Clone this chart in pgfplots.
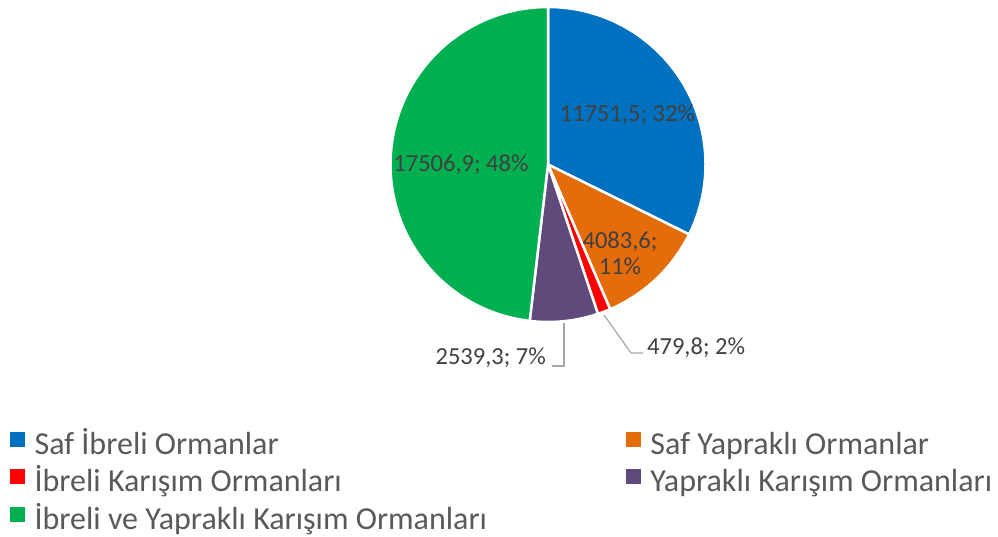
\documentclass[border=0pt]{standalone}
\usepackage{pgfplots}
\pgfplotsset{compat=1.18}
\usepackage{pgfplotstable}
\usepackage{fontspec}
\setmainfont{Carlito}
\definecolor{cBlue}{HTML}{0070C0}
\definecolor{cOrange}{HTML}{E46C0A}
\definecolor{cRed}{HTML}{FF0000}
\definecolor{cPurple}{HTML}{604A7B}
\definecolor{cGreen}{HTML}{00B050}
\definecolor{lblText}{HTML}{404040}
\definecolor{legText}{HTML}{595959}
\definecolor{leader}{HTML}{A6A6A6}

\pgfplotstableread{
value
11751.5
4083.6
479.8
2539.3
17506.9
}\pietable

\begin{document}
\begin{tikzpicture}
\pgfplotstablegetelem{0}{value}\of\pietable \edef\vA{\pgfplotsretval}
\pgfplotstablegetelem{1}{value}\of\pietable \edef\vB{\pgfplotsretval}
\pgfplotstablegetelem{2}{value}\of\pietable \edef\vC{\pgfplotsretval}
\pgfplotstablegetelem{3}{value}\of\pietable \edef\vD{\pgfplotsretval}
\pgfplotstablegetelem{4}{value}\of\pietable \edef\vE{\pgfplotsretval}
\edef\tot{\fpeval{\vA+\vB+\vC+\vD+\vE}}
\edef\aA{90}
\edef\aB{\fpeval{\aA-360*\vA/\tot}}
\edef\aC{\fpeval{\aB-360*\vB/\tot}}
\edef\aD{\fpeval{\aC-360*\vC/\tot}}
\edef\aE{\fpeval{\aD-360*\vD/\tot}}
\edef\aF{\fpeval{\aE-360*\vE/\tot}}
\def\R{157.5pt}
\useasboundingbox (0,0) rectangle (998pt,537pt);
\begin{axis}[
  x=1pt, y=1pt, xmin=0, xmax=998, ymin=0, ymax=537,
  hide axis, clip=false, at={(0,0)}, anchor=origin,
  legend columns=2,
  legend cell align=left,
  legend style={at={(axis cs:10,107)}, anchor=north west, draw=none, fill=none,
    inner sep=0pt, font=\fontsize{32}{38}\selectfont, text=legText,
    nodes={inner sep=0pt, text height=24pt, text depth=8pt},
    row sep=5.5pt,
    /tikz/every odd column/.style={column sep=10pt},
    /tikz/column 2/.style={column sep=139pt}},
]
\fill[cBlue, draw=white, line width=2.5pt, line join=round] (axis cs:548,372.5) -- ++(\aA:\R) arc[start angle=\aA, end angle=\aB, radius=\R] -- cycle;
\fill[cOrange, draw=white, line width=2.5pt, line join=round] (axis cs:548,372.5) -- ++(\aB:\R) arc[start angle=\aB, end angle=\aC, radius=\R] -- cycle;
\fill[cRed, draw=white, line width=2.5pt, line join=round] (axis cs:548,372.5) -- ++(\aC:\R) arc[start angle=\aC, end angle=\aD, radius=\R] -- cycle;
\fill[cPurple, draw=white, line width=2.5pt, line join=round] (axis cs:548,372.5) -- ++(\aD:\R) arc[start angle=\aD, end angle=\aE, radius=\R] -- cycle;
\fill[cGreen, draw=white, line width=2.5pt, line join=round] (axis cs:548,372.5) -- ++(\aE:\R) arc[start angle=\aE, end angle=\aF, radius=\R] -- cycle;

\addlegendimage{legend image code/.code={\fill[cBlue] (0pt,0pt) rectangle (14pt,14pt);}}
\addlegendentry{Saf İbreli Ormanlar}
\addlegendimage{legend image code/.code={\fill[cOrange] (0pt,0pt) rectangle (14pt,14pt);}}
\addlegendentry{Saf Yapraklı Ormanlar}
\addlegendimage{legend image code/.code={\fill[cRed] (0pt,0pt) rectangle (14pt,14pt);}}
\addlegendentry{İbreli Karışım Ormanları}
\addlegendimage{legend image code/.code={\fill[cPurple] (0pt,0pt) rectangle (14pt,14pt);}}
\addlegendentry{Yapraklı Karışım Ormanları}
\addlegendimage{legend image code/.code={\fill[cGreen] (0pt,0pt) rectangle (14pt,14pt);}}
\addlegendentry{İbreli ve Yapraklı Karışım Ormanları}

\begin{scope}[every node/.style={inner sep=0pt, text=lblText, font=\fontsize{24.5}{26}\selectfont}]
\node at (axis cs:627.5,422) {11751,5; 32\%};
\node[align=center] at (axis cs:620,284) {4083,6;\\11\%};
\node at (axis cs:461,372) {17506,9; 48\%};
\node[anchor=east] at (axis cs:546,179) {2539,3; 7\%};
\node[anchor=west] at (axis cs:647,189) {479,8; 2\%};
\end{scope}
\draw[leader, line width=1.2pt] (axis cs:564,214) -- (axis cs:564,171) -- (axis cs:552,171);
\draw[leader, line width=1.2pt] (axis cs:604,222) -- (axis cs:631,184) -- (axis cs:643,184);
\end{axis}
\end{tikzpicture}
\end{document}
